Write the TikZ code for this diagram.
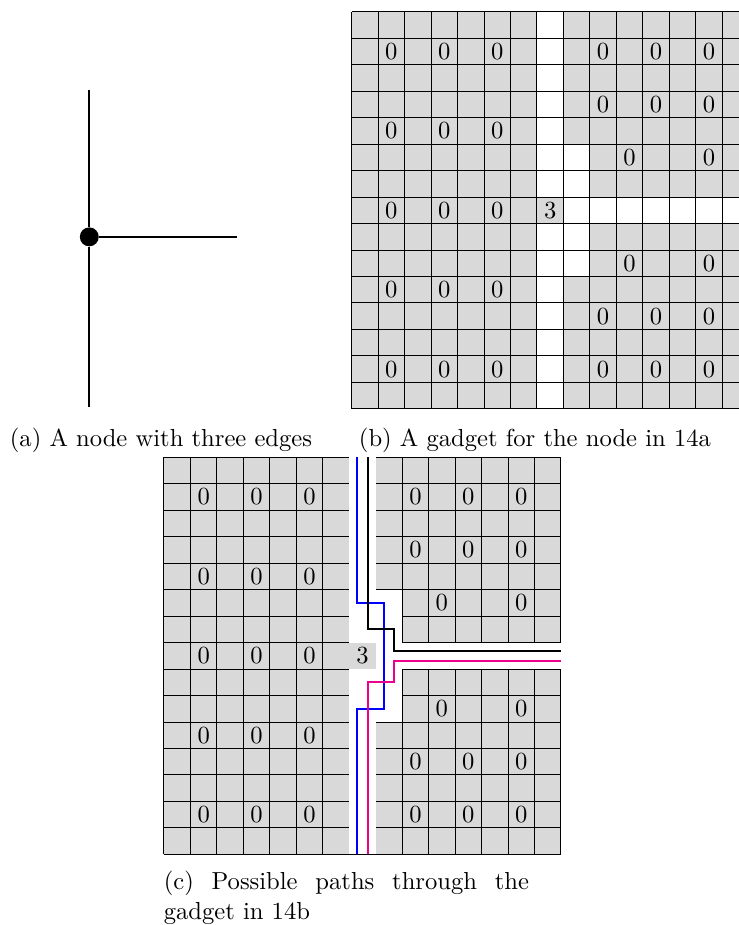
\documentclass[tikz,border=0pt]{standalone}
\usepackage{xcolor}
\usepackage{tikz}
\usetikzlibrary{positioning, calc}
\definecolor{cellGrey}{HTML}{D9D9D9}
\definecolor{pathBlue}{HTML}{0000FF}
\definecolor{pathPink}{HTML}{EC008C}

\begin{document}
\begin{tikzpicture}[x=10.76pt, y=10.76pt,
    gridline/.style={black, line width=0.4pt, step=1},
    cellnum/.style={inner sep=0pt},
    caption/.style={anchor=base west, inner sep=0pt},
    route/.style={line width=0.8pt}]
  \useasboundingbox (0,0) rectangle (27.92,34.95);

  % ── (a): one node, three edges ──
  \node[circle, fill=black, inner sep=0pt, minimum size=7.7pt] (hub) at (3.374,26.0) {};
  \coordinate (hubN) at (3.374,31.55);
  \coordinate (hubS) at (3.374,19.58);
  \coordinate (hubE) at (8.94,26.0);
  \draw[thick] (hubN) -- (hub) -- (hubS);
  \draw[thick] (hub) -- (hubE);
  \node[caption] (capA) at (0.355,18.08) {(a) A node with three edges};

  % ── (b): the gadget, grid lines over the white channel ──
  \begin{scope}[shift={(13.287,19.503)}]
    \fill[cellGrey] (0,0) rectangle (15,15);
    \fill[white] (7,0) rectangle (8,15);
    \fill[white] (8,5) rectangle (9,10);
    \fill[white] (8,7) rectangle (15,8);
    \fill[cellGrey] (7,7) rectangle (8,8);
    \draw[gridline] (0,0) grid (15,15);
    \foreach \r in {1,4,7,10,13} {
      \foreach \c in {1,3,5} {
        \node[cellnum] (b-\c-\r) at (\c+0.5,14.5-\r) {0};
      }
    }
    \foreach \r in {1,3,11,13} {
      \foreach \c in {9,11,13} {
        \node[cellnum] (b-\c-\r) at (\c+0.5,14.5-\r) {0};
      }
    }
    \foreach \r in {5,9} {
      \foreach \c in {10,13} {
        \node[cellnum] (b-\c-\r) at (\c+0.5,14.5-\r) {0};
      }
    }
    \node[cellnum] (b-three) at (7.5,7.5) {3};
  \end{scope}
  \node[caption] (capB) at (13.544,18.08) {(b) A gadget for the node in 14a};

  % ── (c): same gadget, white cells on top, three routes ──
  \begin{scope}[shift={(6.196,2.669)}]
    \fill[cellGrey] (0,0) rectangle (15,15);
    \draw[gridline] (0,0) grid (15,15);
    \fill[white] (7,0) rectangle (8,15);
    \fill[white] (8,5) rectangle (9,10);
    \fill[white] (8,7) rectangle (15,8);
    \fill[cellGrey] (7,7) rectangle (8,8);
    \foreach \r in {1,4,7,10,13} {
      \foreach \c in {1,3,5} {
        \node[cellnum] (c-\c-\r) at (\c+0.5,14.5-\r) {0};
      }
    }
    \foreach \r in {1,3,11,13} {
      \foreach \c in {9,11,13} {
        \node[cellnum] (c-\c-\r) at (\c+0.5,14.5-\r) {0};
      }
    }
    \foreach \r in {5,9} {
      \foreach \c in {10,13} {
        \node[cellnum] (c-\c-\r) at (\c+0.5,14.5-\r) {0};
      }
    }
    \node[cellnum] (c-three) at (7.5,7.5) {3};
    % routes: top to bottom, top to right, bottom to right
    \draw[route, pathBlue] (7.3,15) -- (7.3,9.5) -- (8.3,9.5) -- (8.3,5.5) -- (7.3,5.5) -- (7.3,0);
    \draw[route, black] (7.7,15) -- (7.7,8.5) -- (8.7,8.5) -- (8.7,7.68) -- (15,7.68);
    \draw[route, pathPink] (7.7,0) -- (7.7,6.5) -- (8.7,6.5) -- (8.7,7.3) -- (15,7.3);
  \end{scope}
  \node[caption, text width=148.5pt, align=justify] (capC) at (6.169,1.34)
    {\tolerance=9999 (c) Possible paths through the gadget in 14b};
\end{tikzpicture}
\end{document}
